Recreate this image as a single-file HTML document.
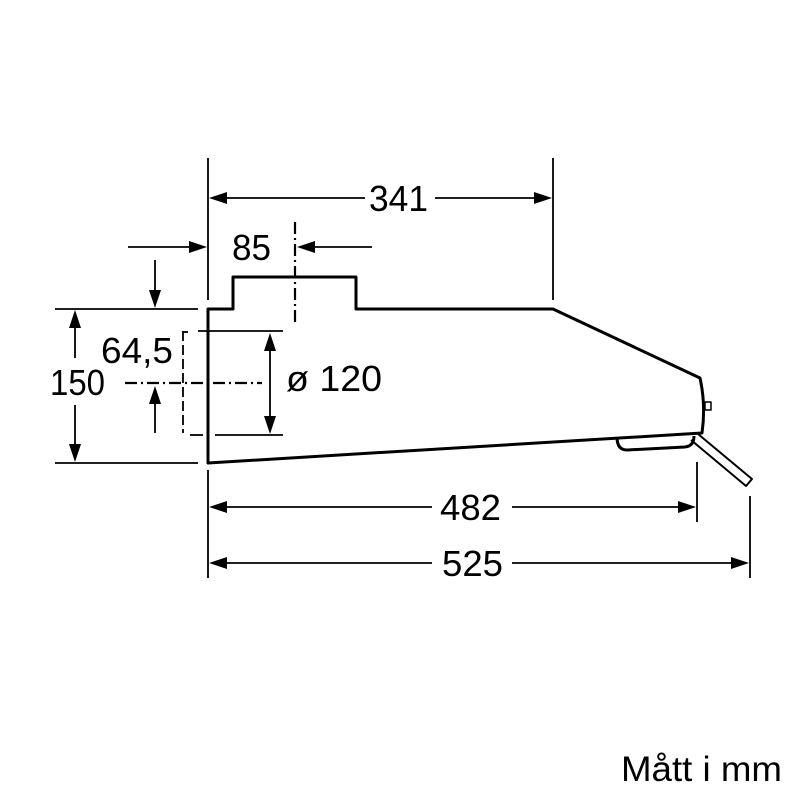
<!DOCTYPE html>
<html><head><style>body{margin:0;background:#fff}svg{display:block}</style></head>
<body>
<svg width="800" height="800" viewBox="0 0 800 800" xmlns="http://www.w3.org/2000/svg" font-family="Liberation Sans, Arial, sans-serif">
<g stroke="#000" stroke-width="1.8" fill="none">
<line x1="208" y1="158" x2="208" y2="300"/>
<line x1="208" y1="470" x2="208" y2="578"/>
<line x1="553" y1="158" x2="553" y2="300"/>
<line x1="697" y1="462" x2="697" y2="522"/>
<line x1="750" y1="496" x2="750" y2="578"/>
<line x1="55" y1="309" x2="198" y2="309"/>
<line x1="55" y1="463" x2="198" y2="463"/>
<line x1="198" y1="331" x2="283" y2="331"/>
<line x1="190" y1="435" x2="203" y2="435"/>
<line x1="215" y1="435" x2="283" y2="435"/>
<line x1="365" y1="198" x2="215" y2="198"/>
<line x1="435" y1="198" x2="545" y2="198"/>
<line x1="128" y1="247" x2="200" y2="247"/>
<line x1="372" y1="247" x2="305" y2="247"/>
<line x1="155" y1="260" x2="155" y2="300"/>
<line x1="155" y1="433" x2="155" y2="395"/>
<line x1="75" y1="358" x2="75" y2="318"/>
<line x1="75" y1="405" x2="75" y2="455"/>
<line x1="270" y1="340" x2="270" y2="426"/>
<line x1="432" y1="507" x2="215" y2="507"/>
<line x1="512" y1="507" x2="690" y2="507"/>
<line x1="432" y1="563" x2="215" y2="563"/>
<line x1="512" y1="563" x2="743" y2="563"/>
<line x1="295" y1="222" x2="295" y2="325" stroke-width="2.2" stroke-dasharray="12,4,2,4"/>
<line x1="125" y1="383" x2="262" y2="383" stroke-width="2.2" stroke-dasharray="12,4,2,4"/>
<line x1="183" y1="331" x2="183" y2="433" stroke-dasharray="10,4"/>
<line x1="183" y1="332" x2="188" y2="332"/>
</g>
<g fill="#000">
<!-- 341 -->
<polygon points="209,198 227,192 227,204"/>
<polygon points="552,198 534,192 534,204"/>
<!-- 85 -->
<polygon points="207,247 189,241 189,253"/>
<polygon points="297,247 315,241 315,253"/>
<!-- 64,5 -->
<polygon points="155,308 149,290 161,290"/>
<polygon points="155,386 149,404 161,404"/>
<!-- 150 -->
<polygon points="75,310 69,328 81,328"/>
<polygon points="75,462 69,444 81,444"/>
<!-- 120 -->
<polygon points="270,333 264,351 276,351"/>
<polygon points="270,434 264,416 276,416"/>
<!-- 482 -->
<polygon points="209,507 227,501 227,513"/>
<polygon points="696,507 678,501 678,513"/>
<!-- 525 -->
<polygon points="209,563 227,557 227,569"/>
<polygon points="749,563 731,557 731,569"/>
</g>
<g stroke="#000" stroke-width="3" fill="none" stroke-linejoin="round">
<path d="M208,463 L208,309 L233,309 L233,277 L356,277 L356,309 L553,309 L700,378 Q706,405 702,433 Z"/>
<path d="M617,437 Q617,450 627,450 L685,447 Q694,446 694,436"/>
<path d="M691,440 L746,486 L752,479 L698,434" stroke-width="2"/>
<rect x="705" y="402" width="6" height="8" stroke-width="1.5"/>
</g>
<g font-size="36" fill="#000">
<text x="369" y="211" textLength="59" lengthAdjust="spacingAndGlyphs">341</text>
<text x="232" y="260" textLength="39" lengthAdjust="spacingAndGlyphs">85</text>
<text x="101" y="363" textLength="72" lengthAdjust="spacingAndGlyphs">64,5</text>
<text x="50" y="395" textLength="55" lengthAdjust="spacingAndGlyphs">150</text>
<text x="286" y="391" textLength="96" lengthAdjust="spacingAndGlyphs">ø 120</text>
<text x="440" y="520" textLength="61" lengthAdjust="spacingAndGlyphs">482</text>
<text x="442" y="576" textLength="61" lengthAdjust="spacingAndGlyphs">525</text>
<text x="621" y="781" font-size="35" textLength="161" lengthAdjust="spacingAndGlyphs">Mått i mm</text>
</g>
</svg>
</body></html>
